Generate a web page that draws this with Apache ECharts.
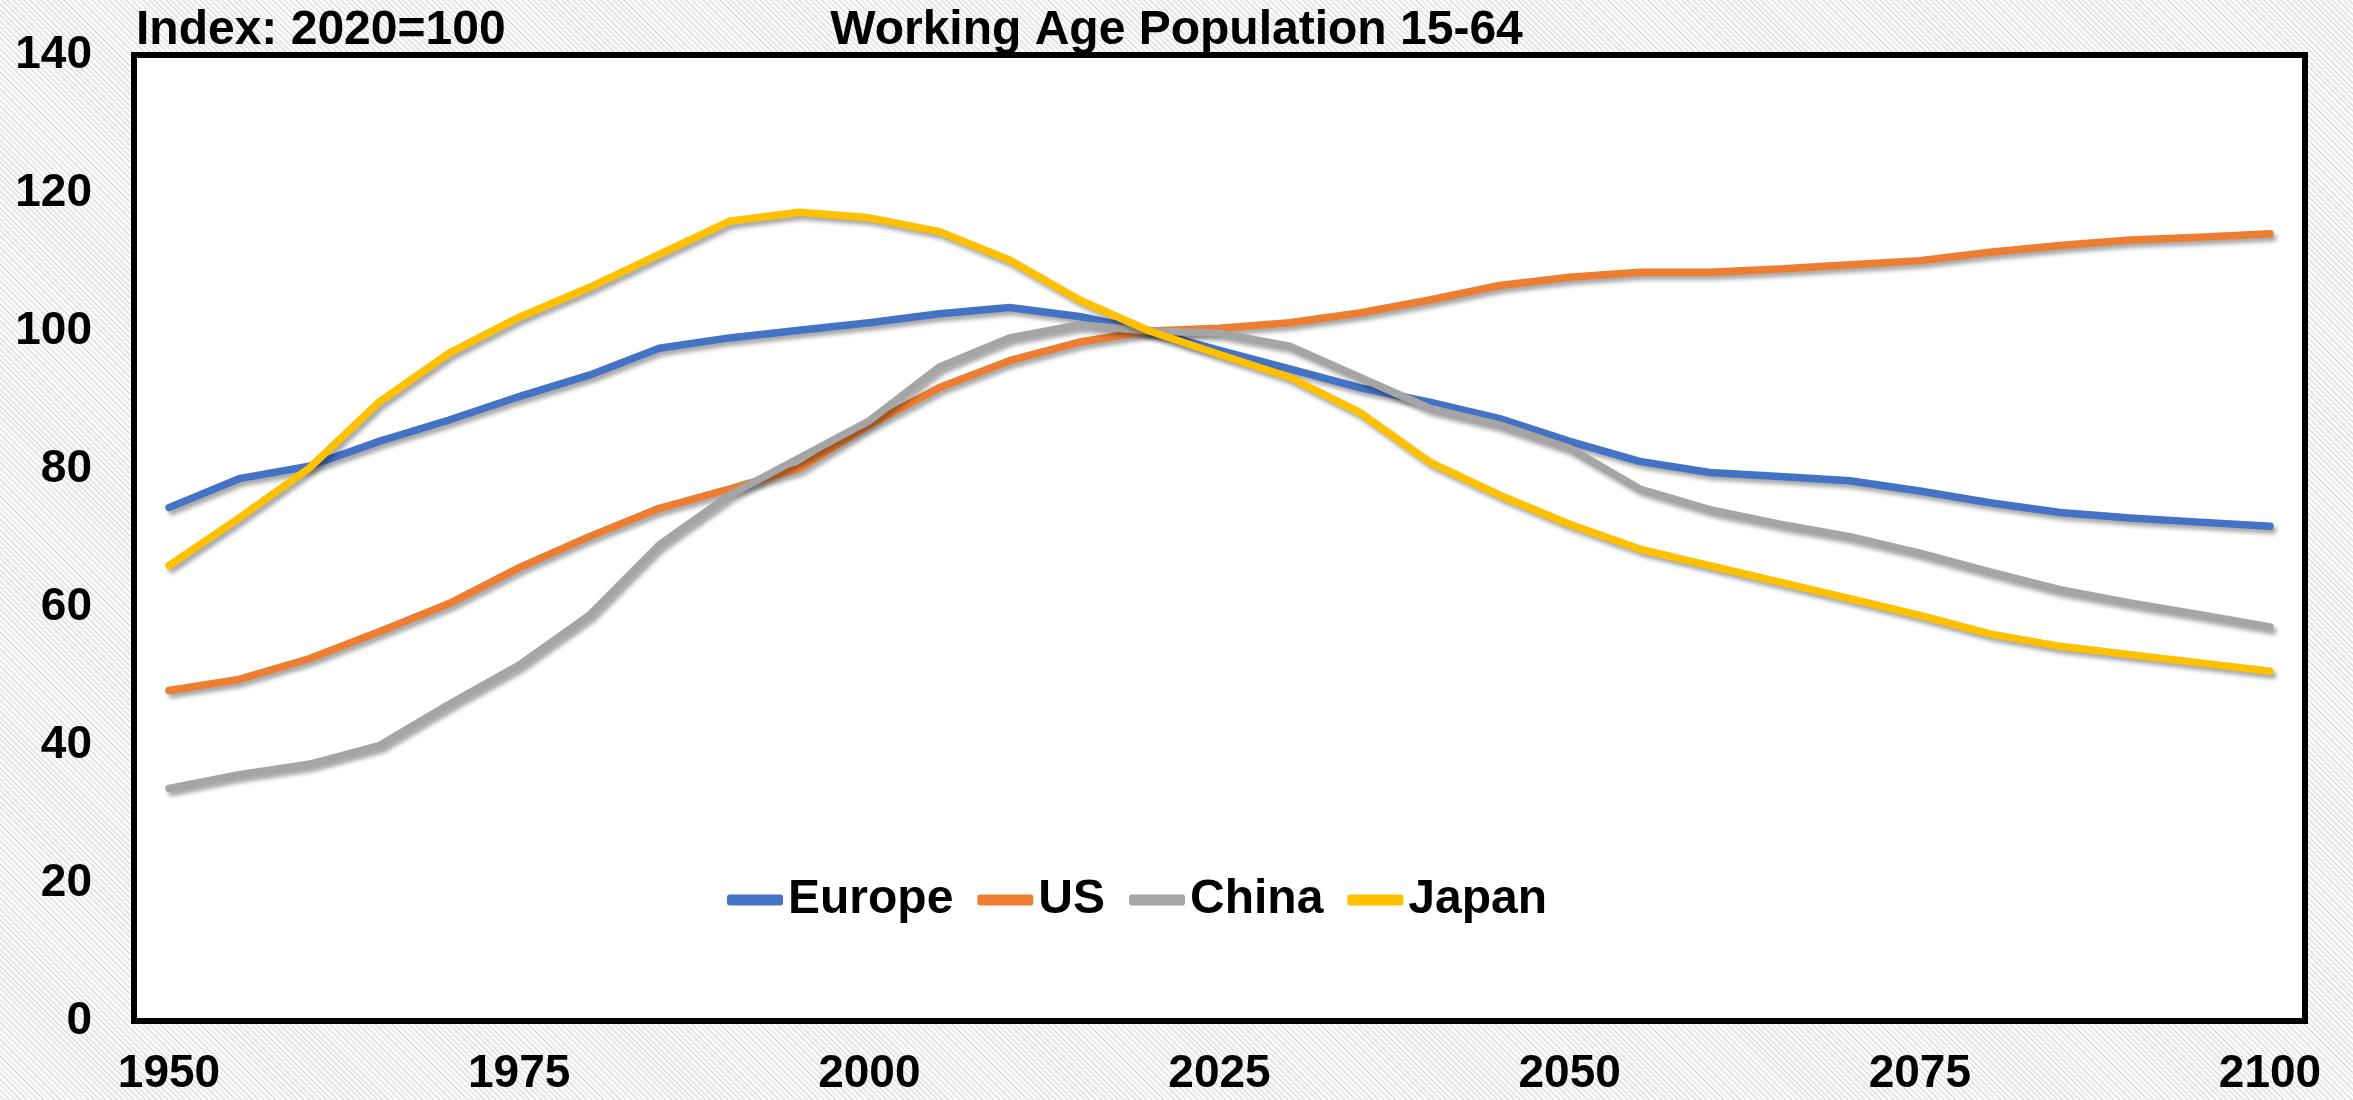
<!DOCTYPE html>
<html>
<head>
<meta charset="utf-8">
<title>Working Age Population 15-64</title>
<script src="https://cdn.jsdelivr.net/npm/echarts@6/dist/echarts.min.js"></script>
<style>
    html, body { margin: 0; padding: 0; }
    body {
        width: 2353px; height: 1100px;
        background: repeating-linear-gradient(45deg, #ffffff 0px, #ffffff 2px, #e6e6e6 2px, #e6e6e6 4px);
    }
    #main { width: 2353px; height: 1100px; }
</style>
</head>
<body>
<div id="main"></div>
<script>
    // years 1950..2100, step 5
    var years = ['1950','1955','1960','1965','1970','1975','1980','1985','1990','1995',
                 '2000','2005','2010','2015','2020','2025','2030','2035','2040','2045',
                 '2050','2055','2060','2065','2070','2075','2080','2085','2090','2095','2100'];

    var europe = [74.4, 78.6, 80.4, 84.0, 87.1, 90.5, 93.6, 97.5, 99.0, 100.1,
                  101.2, 102.5, 103.4, 102.1, 100.0, 97.2, 94.5, 91.8, 89.7, 87.3,
                  84.0, 81.1, 79.5, 78.9, 78.3, 76.8, 75.1, 73.7, 72.9, 72.3, 71.7];
    var us = [47.9, 49.5, 52.5, 56.4, 60.5, 65.7, 70.2, 74.3, 77.1, 80.1,
              86.4, 91.8, 95.7, 98.4, 100.0, 100.4, 101.2, 102.6, 104.5, 106.6,
              107.8, 108.5, 108.5, 109.0, 109.6, 110.2, 111.4, 112.4, 113.2, 113.6, 114.1];
    var china = [33.7, 35.7, 37.2, 39.9, 45.9, 51.6, 58.8, 69.0, 76.2, 81.6,
                 87.0, 94.8, 99.0, 100.9, 100.0, 99.7, 97.8, 93.3, 88.8, 86.4,
                 83.0, 77.1, 74.1, 72.0, 70.2, 67.8, 65.1, 62.5, 60.6, 58.9, 57.1];
    var japan = [66.0, 72.9, 80.1, 89.7, 96.8, 102.0, 106.3, 111.1, 115.9, 117.2,
                 116.4, 114.4, 110.3, 104.5, 100.0, 96.6, 93.3, 88.2, 81.0, 76.2,
                 72.0, 68.4, 66.0, 63.6, 61.2, 58.8, 56.1, 54.3, 53.1, 51.9, 50.7];

    var names = ['Europe', 'US', 'China', 'Japan'];
    var colors = ['#4472C4', '#ED7D31', '#A5A5A5', '#FFC000'];
    var values = [europe, us, china, japan];

    var font = '"Liberation Sans", Arial, sans-serif';

    var chart = echarts.init(document.getElementById('main'));

    var series = names.map(function (n, k) {
        return {
            name: n,
            type: 'line',
            data: values[k],
            symbol: 'none',
            lineStyle: {
                color: colors[k],
                width: 7.5,
                cap: 'round',
                join: 'round',
                shadowColor: 'rgba(0,0,0,0.35)',
                shadowBlur: 4,
                shadowOffsetX: 3,
                shadowOffsetY: 4
            },
            itemStyle: { color: colors[k] },
            emphasis: { disabled: true }
        };
    });

    chart.setOption({
        animation: false,
        color: colors,
        title: [
            {
                text: 'Working Age Population 15-64',
                left: 'center',
                top: 2,
                textStyle: { fontFamily: font, fontWeight: 'bold', fontSize: 48, color: '#000' }
            },
            {
                text: 'Index: 2020=100',
                left: 131,
                top: 2,
                textStyle: { fontFamily: font, fontWeight: 'bold', fontSize: 48, color: '#000' }
            }
        ],
        legend: {
            left: 722,
            top: 871,
            icon: 'roundRect',
            itemWidth: 56,
            itemHeight: 11,
            itemGap: 24,
            textStyle: { fontFamily: font, fontWeight: 'bold', fontSize: 48, color: '#000' },
            data: names
        },
        grid: {
            left: 134,
            right: 48,
            top: 55,
            bottom: 79,
            show: true,
            backgroundColor: '#fff',
            borderColor: '#000',
            borderWidth: 6
        },
        xAxis: {
            type: 'category',
            data: years,
            boundaryGap: true,
            axisLine: { show: false },
            axisTick: { show: false },
            axisLabel: {
                interval: 4,
                margin: 30,
                fontFamily: font, fontWeight: 'bold', fontSize: 46, color: '#000'
            }
        },
        yAxis: {
            type: 'value',
            min: 0,
            max: 140,
            interval: 20,
            axisLine: { show: false },
            axisTick: { show: false },
            splitLine: { show: false },
            axisLabel: {
                margin: 42,
                fontFamily: font, fontWeight: 'bold', fontSize: 46, color: '#000'
            }
        },
        series: series
    });
</script>
</body>
</html>
